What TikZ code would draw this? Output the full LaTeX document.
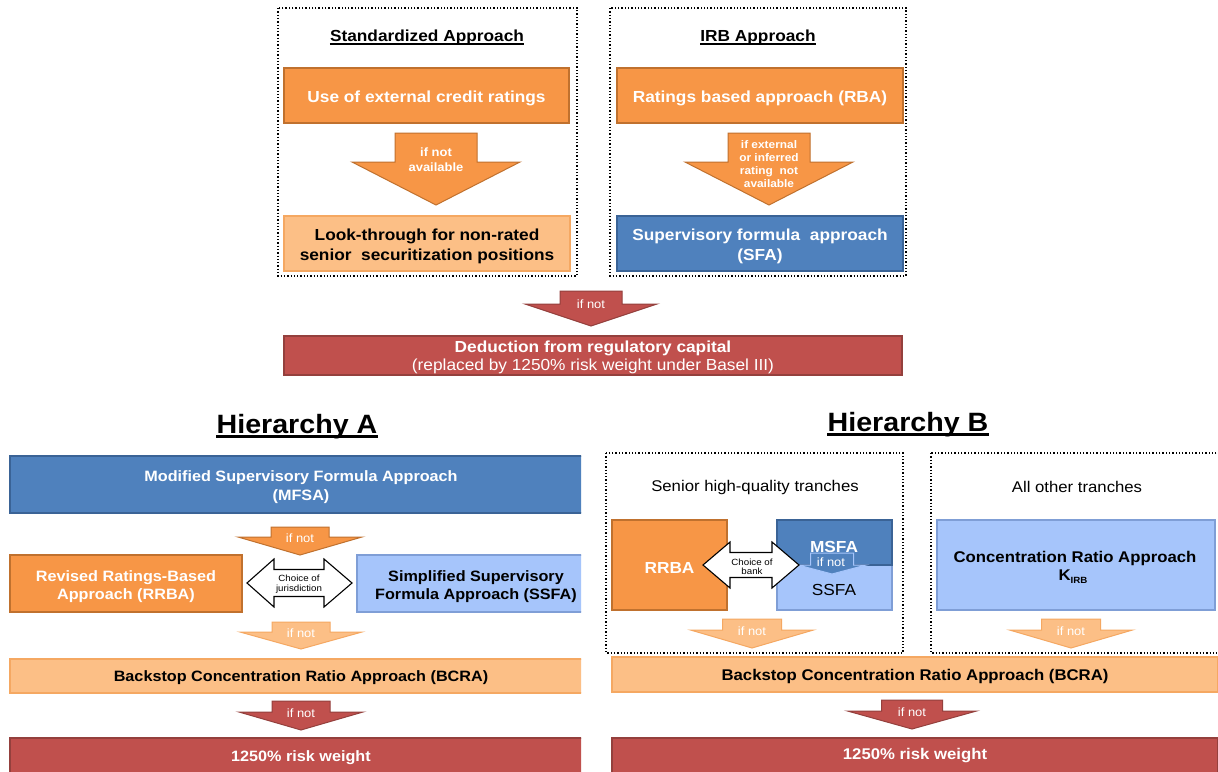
\documentclass[tikz,border=0pt]{standalone}
\usepackage{fontspec}
\setmainfont{Liberation Sans}[FakeStretch=1.08]
\definecolor{cOr}{HTML}{F79646}
\definecolor{cOrD}{HTML}{C0712E}
\definecolor{cLo}{HTML}{FCBF86}
\definecolor{cLoD}{HTML}{F5A862}
\definecolor{cBl}{HTML}{4F81BD}
\definecolor{cBlD}{HTML}{3A6396}
\definecolor{cLb}{HTML}{A6C5FB}
\definecolor{cLbD}{HTML}{7F9ED6}
\definecolor{cRd}{HTML}{C0504D}
\definecolor{cRdD}{HTML}{94403D}
\newcommand{\setfs}[2]{\fontsize{#1}{#2}\selectfont}
\newcommand{\dnarrow}[7]{%
  \draw[#1] (#2-#4,#3) -- (#2+#4,#3) -- (#2+#4,#6) -- (#2+#5,#6) -- (#2,#7)
    -- (#2-#5,#6) -- (#2-#4,#6) -- cycle;}
\newcommand{\dblarrow}[7]{%
  \draw[dbl] (#1,#5) -- (#2,#5-#7) -- (#2,#5-#6) -- (#3,#5-#6) -- (#3,#5-#7)
    -- (#4,#5) -- (#3,#5+#7) -- (#3,#5+#6) -- (#2,#5+#6) -- (#2,#5+#7) -- cycle;}
\begin{document}
\begin{tikzpicture}[x=1pt,y=-1pt,
  dotbox/.style={draw=black, line width=1.3pt, dotted},
  box/.style={draw, line width=1.2pt, inner sep=0pt},
  orangebox/.style={box, fill=cOr, draw=cOrD},
  lorangebox/.style={box, fill=cLo, draw=cLoD},
  bluebox/.style={box, fill=cBl, draw=cBlD},
  lbluebox/.style={box, fill=cLb, draw=cLbD},
  redbox/.style={box, fill=cRd, draw=cRdD},
  title/.style={inner sep=0pt, anchor=base, text=black},
  plain/.style={inner sep=0pt, align=center},
  btxt/.style={plain, yshift=-3pt},
  wtxt/.style={btxt, text=white},
  oarrow/.style={fill=cOr, draw=cOrD, line width=1pt},
  loarrow/.style={fill=cLo, draw=cLoD, line width=1pt},
  rarrow/.style={fill=cRd, draw=cRdD, line width=1pt},
  barrow/.style={fill=cBl, draw=cLb, line width=1pt},
  dbl/.style={fill=white, draw=black, line width=1.1pt},
  arrowtxt/.style={plain, text=white, font=\setfs{12}{14}},
  choicetxt/.style={plain, text=black, font=\setfs{9}{10}}
]
\clip (0,0) rectangle (1218,771);
\fill[white] (0,0) rectangle (1218,771);

% ---------------- top part ----------------
\draw[dotbox] (278,8) rectangle (577,276);
\draw[dotbox] (610,8) rectangle (906,276);
\node[title, font=\setfs{16}{19}\bfseries] (t1) at (427,41) {Standardized Approach};
\draw[line width=1.3pt] ([yshift=-3pt]t1.base west) -- ([yshift=-3pt]t1.base east);
\node[title, font=\setfs{16}{19}\bfseries] (t2) at (758,41) {IRB Approach};
\draw[line width=1.3pt] ([yshift=-3pt]t2.base west) -- ([yshift=-3pt]t2.base east);

\node[orangebox, minimum width=285, minimum height=55] (ext) at (426.5,95.5) {};
\node[wtxt, font=\setfs{16}{20}\bfseries] at (ext) {Use of external credit ratings};
\dnarrow{oarrow}{436}{133}{41}{84}{162}{205}
\node[arrowtxt, font=\setfs{12}{15}\bfseries] (a1) at (436,160) {if not\\available};
\node[lorangebox, minimum width=286, minimum height=55] (look) at (427,243.5) {};
\node[btxt, font=\setfs{16}{20}\bfseries] at (look) {Look-through for non-rated\\senior~~securitization positions};

\node[orangebox, minimum width=286, minimum height=55] (rba) at (760,95.5) {};
\node[wtxt, font=\setfs{16}{20}\bfseries] at (rba) {Ratings based approach (RBA)};
\dnarrow{oarrow}{769}{133}{41}{84}{162}{205}
\node[arrowtxt, font=\setfs{11}{13}\bfseries] (a2) at (769,164) {if external\\or inferred\\rating~~not\\available};
\node[bluebox, minimum width=286, minimum height=55] (sfa) at (760,243.5) {};
\node[wtxt, font=\setfs{16}{20}\bfseries] at (sfa) {Supervisory formula~~approach\\(SFA)};

\dnarrow{rarrow}{591}{291}{31}{66}{304}{326}
\node[arrowtxt] (a3) at (591,304) {if not};
\node[redbox, minimum width=618, minimum height=39] (ded) at (593,355.5) {};
\node[wtxt, font=\setfs{16}{18}] at ([yshift=1pt]ded) {\bfseries Deduction from regulatory capital\\(replaced by 1250\% risk weight under Basel III)};

% ---------------- Hierarchy A ----------------
\begin{scope}
\clip (0,390) rectangle (581,771);
\node[title, font=\setfs{26.5}{30}\bfseries] (ha) at (297,433) {Hierarchy A};
\draw[line width=2.2pt] ([yshift=-3.5pt]ha.base west) -- ([yshift=-3.5pt]ha.base east);
\node[bluebox, minimum width=582, minimum height=57] (mfsa) at (301,484.5) {};
\node[wtxt, font=\setfs{15}{19}\bfseries] at (mfsa) {Modified Supervisory Formula Approach\\(MFSA)};
\dnarrow{oarrow}{300}{527}{29}{62}{537}{555}
\node[arrowtxt] (a4) at (300,538) {if not};
\node[orangebox, minimum width=232, minimum height=57] (rrbaA) at (126,583.5) {};
\node[wtxt, font=\setfs{15}{18}\bfseries] at (rrbaA) {Revised Ratings-Based\\Approach (RRBA)};
\node[lbluebox, minimum width=238, minimum height=57] (ssfaA) at (476,583.5) {};
\node[btxt, font=\setfs{15}{18}\bfseries] at (ssfaA) {Simplified Supervisory\\Formula Approach (SSFA)};
\dblarrow{247}{274}{324}{352}{583}{13.5}{24}
\node[choicetxt] (chA) at (299,584) {Choice of\\jurisdiction};
\dnarrow{loarrow}{301}{622}{29}{61}{632}{649}
\node[arrowtxt] (a5) at (301,633) {if not};
\node[lorangebox, minimum width=582, minimum height=34] (bcraA) at (301,676) {};
\node[btxt, font=\setfs{15}{18}\bfseries] at ([yshift=1pt]bcraA) {Backstop Concentration Ratio Approach (BCRA)};
\dnarrow{rarrow}{301}{701}{29}{62}{712}{730}
\node[arrowtxt] (a6) at (301,713) {if not};
\node[redbox, minimum width=582, minimum height=42] (rwA) at (301,759) {};
\node[plain, text=white, font=\setfs{15}{18}\bfseries] at (301,758) {1250\% risk weight};
\end{scope}

% ---------------- Hierarchy B ----------------
\node[title, font=\setfs{26.5}{30}\bfseries] (hb) at (908,431) {Hierarchy B};
\draw[line width=2.2pt] ([yshift=-3.5pt]hb.base west) -- ([yshift=-3.5pt]hb.base east);
\draw[dotbox] (606,453) rectangle (903,653);
\draw[dotbox] (931,453) rectangle (1240,653);
\node[plain, font=\setfs{15.5}{18}] (sen) at (755,487) {Senior high-quality tranches};
\node[plain, font=\setfs{15.5}{18}] (oth) at (1077,487) {All other tranches};

\node[orangebox, minimum width=115, minimum height=90] (rrbaB) at (669.5,565) {};
\node[wtxt, font=\setfs{16}{19}\bfseries] at (rrbaB) {RRBA};
\node[lbluebox, minimum width=115, minimum height=45] (ssfaB) at (834.5,587.5) {};
\node[bluebox, minimum width=115, minimum height=45] (msfaB) at (834.5,542.5) {};
\node[plain, text=white, font=\setfs{16}{19}\bfseries] at (834,547) {MSFA};
\node[plain, text=black, font=\setfs{16}{19}] at (834,590) {SSFA};
\dnarrow{barrow}{832}{553}{21.5}{34}{565}{574}
\node[arrowtxt, font=\setfs{12}{14}] (a7) at (831,562) {if not};
\dblarrow{703}{730}{772}{799}{565}{12.5}{23}
\node[choicetxt, font=\setfs{9}{9.5}] (chB) at (752,567) {Choice of\\bank};

\node[lbluebox, minimum width=278, minimum height=90] (conc) at (1076,565) {};
\node[plain, font=\setfs{15.5}{18}\bfseries] at (1075,558) {Concentration Ratio Approach};
\node[plain, font=\setfs{15.5}{18}\bfseries] at (1073,577) {K\raisebox{-3pt}{\setfs{9}{9}IRB}};

\dnarrow{loarrow}{752}{619}{29.5}{61.5}{630}{648}
\node[arrowtxt] (a8) at (752,631) {if not};
\dnarrow{loarrow}{1071}{619}{29.5}{61.5}{630}{648}
\node[arrowtxt] (a9) at (1071,631) {if not};

\node[lorangebox, minimum width=606, minimum height=35] (bcraB) at (915,674.5) {};
\node[btxt, font=\setfs{15.5}{18}\bfseries] at ([yshift=1pt]bcraB) {Backstop Concentration Ratio Approach (BCRA)};
\dnarrow{rarrow}{912}{700}{30.5}{64.5}{711}{729}
\node[arrowtxt] (a10) at (912,712) {if not};
\node[redbox, minimum width=606, minimum height=42] (rwB) at (915,759) {};
\node[plain, text=white, font=\setfs{15.5}{18}\bfseries] at (915,756) {1250\% risk weight};
\end{tikzpicture}
\end{document}
